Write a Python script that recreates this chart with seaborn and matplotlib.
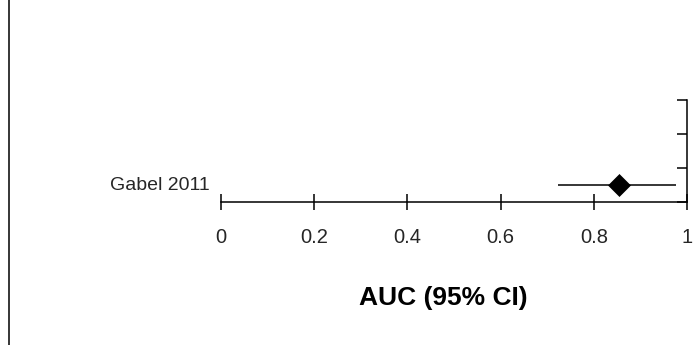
import pandas as pd
import numpy as np
import seaborn as sns
import matplotlib.pyplot as plt
from matplotlib.lines import Line2D

# study data (AUC with 95% CI)
studies = ["Gabel 2011"]
auc = [0.855]
ci_low = [0.724]
ci_high = [0.976]
row_pos = [0.5]
xticks = [0, 0.2, 0.4, 0.6, 0.8, 1]
xtick_labels = ["0", "0.2", "0.4", "0.6", "0.8", "1"]

df = pd.DataFrame({"study": studies, "auc": auc, "lo": ci_low, "hi": ci_high, "row": row_pos})

sns.set_style("white")
plt.rcParams['font.family'] = ['Liberation Sans', 'DejaVu Sans']

fig = plt.figure(figsize=(6.97, 3.45), dpi=100)
ax = fig.add_axes([221 / 697, 1 - 202 / 345, 466 / 697, 202 / 345])

# confidence intervals
ax.hlines(df["row"], df["lo"], df["hi"], color="black", lw=1.1)
sns.scatterplot(data=df, x="auc", y="row", marker="D", s=125, color="black",
                edgecolor="black", linewidth=0.5, ax=ax, zorder=3, legend=False)

for _, r in df.iterrows():
    ax.annotate(r["study"], xy=(0, r["row"]), xycoords="data", xytext=(-8, 0),
                textcoords="offset points", ha="right", va="center", fontsize=14, color="#262626")

ax.set_xlim(0, 1)
ax.set_ylim(0, 202 / 34)

for s in ["left", "top"]:
    ax.spines[s].set_visible(False)
for s in ["bottom", "right"]:
    ax.spines[s].set_linewidth(1.1)
    ax.spines[s].set_color("black")
ax.spines["right"].set_bounds(0, 3)

ax.set_xticks(xticks)
ax.set_xticklabels(xtick_labels)
ax.tick_params(axis="x", bottom=True, direction="inout", length=12, width=1.1,
               labelsize=14.5, pad=13, color="black", labelcolor="#262626")
ax.set_yticks([0, 1, 2, 3])
ax.set_yticklabels([])
ax.yaxis.tick_right()
ax.tick_params(axis="y", direction="in", length=7, width=1.1, right=True, left=False, color="black")

ax.set_xlabel("AUC (95% CI)", fontsize=19, fontweight="bold", color="black")
ax.xaxis.set_label_coords((443 - 221) / 466, -(298 - 202) / 202)
ax.xaxis.label.set_va("center")
ax.set_ylabel("")

# left border line
fig.add_artist(Line2D([8.5 / 697, 8.5 / 697], [0, 1], color="black", lw=1.1, transform=fig.transFigure))

plt.savefig("out.png", dpi=100)
